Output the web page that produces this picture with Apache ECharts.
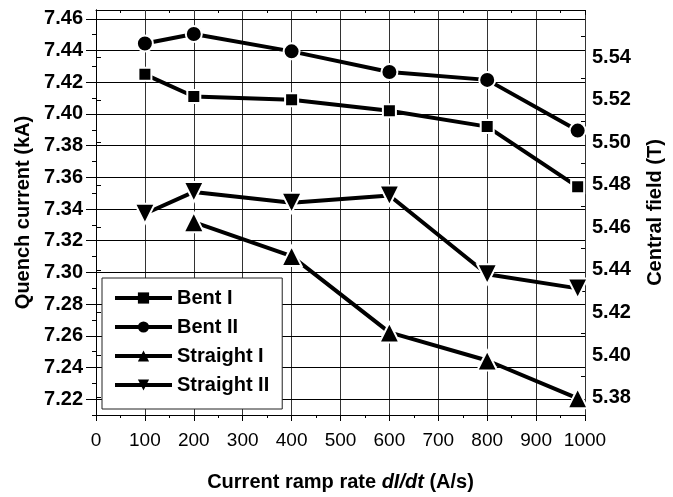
<!DOCTYPE html>
<html>
<head>
<meta charset="utf-8">
<script src="https://cdn.jsdelivr.net/npm/echarts@6/dist/echarts.min.js"></script>
<style>
  html, body { margin: 0; background: #fff; }
  #chart { width: 673px; height: 497px; }
</style>
</head>
<body>
<div id="chart"></div>
<script>
  // ramp rate (A/s) and quench current (kA)
  const rampRate = [100, 200, 400, 600, 800, 985]
  const bentI = [7.425, 7.411, 7.409, 7.402, 7.392, 7.354]
  const bentII = [7.4445, 7.4505, 7.4395, 7.4265, 7.4215, 7.3895]
  const straightI = [null, 7.3317, 7.3103, 7.2621, 7.2444, 7.2205]
  const straightII = [7.337, 7.3508, 7.3439, 7.3485, 7.2988, 7.2899]

  const rampGrid = [100, 200, 300, 400, 500, 600, 700, 800, 900]
  const currentTicks = [7.22, 7.24, 7.26, 7.28, 7.30, 7.32, 7.34, 7.36, 7.38, 7.40, 7.42, 7.44, 7.46]
  const currentMinor = [7.21, 7.23, 7.25, 7.27, 7.29, 7.31, 7.33, 7.35, 7.37, 7.39, 7.41, 7.43, 7.45]
  const fieldTicks = [5.38, 5.40, 5.42, 5.44, 5.46, 5.48, 5.50, 5.52, 5.54]
  const fieldMinor = [5.39, 5.41, 5.43, 5.45, 5.47, 5.49, 5.51, 5.53, 5.55]

  const currentMin = 7.21
  const currentMax = 7.4656
  const fieldPerCurrent = 0.74505 // T per kA

  const font = "'Liberation Sans', Arial, Helvetica, sans-serif"

  function pairs(ys) {
    return rampRate.map((x, i) => [x, ys[i]]).filter(p => p[1] != null)
  }

  function lineSeries(name, symbol, size, ys) {
    return {
      name: name,
      type: 'line',
      data: pairs(ys),
      symbol: symbol,
      symbolSize: size,
      showAllSymbol: true,
      lineStyle: { color: '#000', width: 4 },
      itemStyle: { color: '#000', borderColor: '#fff', borderWidth: 2 },
      emphasis: { disabled: true },
      z: 5
    }
  }

  // grid lines as mark lines, on the axes' own scales
  const gridLines = rampGrid.map(v => ({ xAxis: v, lineStyle: { color: '#333', width: 1, type: 'solid' } }))
    .concat(currentTicks.map(v => ({ yAxis: v, lineStyle: { color: '#000', width: 1, type: 'solid' } })))

  const series = [
    lineSeries('Bent I', 'rect', 13, bentI),
    lineSeries('Bent II', 'circle', 16, bentII),
    lineSeries('Straight I', 'triangle', 20, straightI),
    lineSeries('Straight II', 'path://M0,0 L10,0 L5,10 Z', 20, straightII)
  ]
  series[0].markLine = {
    silent: true,
    z: 1,
    symbol: ['none', 'none'],
    label: { show: false },
    emphasis: { disabled: true },
    animation: false,
    data: gridLines
  }

  const chart = echarts.init(document.getElementById('chart'))
  chart.setOption({
    animation: false,
    grid: { left: 96, right: 88, top: 10, bottom: 80 },
    legend: {
      orient: 'vertical',
      left: 102,
      top: 278,
      itemWidth: 57,
      itemHeight: 14,
      itemGap: 9,
      padding: [10, 13, 14, 11],
      backgroundColor: '#fff',
      borderColor: '#222',
      borderWidth: 1,
      itemStyle: { borderWidth: 0 },
      lineStyle: { width: 4 },
      textStyle: { fontFamily: font, fontSize: 20, fontWeight: 'bold', color: '#000', lineHeight: 20 },
      data: ['Bent I', 'Bent II', 'Straight I', 'Straight II'],
      z: 10
    },
    xAxis: [{
      type: 'value',
      min: 0,
      max: 1000,
      interval: 100,
      name: 'Current ramp rate {i|dI/dt} (A/s)',
      nameLocation: 'middle',
      nameGap: 57,
      nameTextStyle: {
        fontFamily: font, fontSize: 20, fontWeight: 'bold', color: '#000',
        rich: { i: { fontFamily: font, fontSize: 20, fontWeight: 'bold', fontStyle: 'italic', color: '#000' } }
      },
      axisLine: { lineStyle: { color: '#000' } },
      axisTick: { length: 6, lineStyle: { color: '#000' } },
      minorTick: { show: true, splitNumber: 2, length: 3, lineStyle: { color: '#000' } },
      axisLabel: { fontFamily: font, fontSize: 19, color: '#000', margin: 16, formatter: v => String(v) },
      splitLine: { show: true, lineStyle: { color: '#333' } }
    }, {
      type: 'value',
      position: 'top',
      min: 0,
      max: 1000,
      interval: 100,
      axisLine: { lineStyle: { color: '#000' } },
      axisTick: { inside: true, length: 5, lineStyle: { color: '#000' } },
      minorTick: { show: true, splitNumber: 2, length: 3, lineStyle: { color: '#000' } },
      axisLabel: { show: false },
      splitLine: { show: false }
    }],
    yAxis: [{
      type: 'value',
      min: currentMin,
      max: currentMax,
      name: 'Quench current (kA)',
      nameLocation: 'middle',
      nameGap: 61,
      nameTextStyle: { fontFamily: font, fontSize: 20, fontWeight: 'bold', color: '#000' },
      axisLine: { show: true, lineStyle: { color: '#000' } },
      axisTick: { show: true, length: 10, customValues: currentTicks, lineStyle: { color: '#000' } },
      axisLabel: {
        fontFamily: font, fontSize: 20, fontWeight: 'bold', color: '#000', margin: 13,
        customValues: currentTicks,
        formatter: v => v.toFixed(2)
      },
      splitLine: { show: true, lineStyle: { color: '#000' } }
    }, {
      type: 'value',
      position: 'right',
      min: +(currentMin * fieldPerCurrent).toFixed(4),
      max: +(currentMax * fieldPerCurrent).toFixed(4),
      name: 'Central field (T)',
      nameLocation: 'middle',
      nameGap: 60,
      nameTextStyle: { fontFamily: font, fontSize: 20, fontWeight: 'bold', color: '#000' },
      axisLine: { show: true, lineStyle: { color: '#000' } },
      axisTick: { show: true, length: 5, customValues: fieldTicks, lineStyle: { color: '#000' } },
      axisLabel: {
        fontFamily: font, fontSize: 20, fontWeight: 'bold', color: '#000', margin: 7,
        customValues: fieldTicks,
        formatter: v => v.toFixed(2)
      },
      splitLine: { show: false }
    }, {
      // minor ticks, left
      type: 'value',
      position: 'left',
      min: currentMin,
      max: currentMax,
      axisLine: { show: false },
      axisTick: { show: true, length: 4, customValues: currentMinor, lineStyle: { color: '#000' } },
      axisLabel: { show: false },
      splitLine: { show: false }
    }, {
      // minor ticks, right
      type: 'value',
      position: 'right',
      min: +(currentMin * fieldPerCurrent).toFixed(4),
      max: +(currentMax * fieldPerCurrent).toFixed(4),
      axisLine: { show: false },
      axisTick: { show: true, inside: true, length: 4, customValues: fieldMinor, lineStyle: { color: '#000' } },
      axisLabel: { show: false },
      splitLine: { show: false }
    }],
    series: series
  })
</script>
</body>
</html>
